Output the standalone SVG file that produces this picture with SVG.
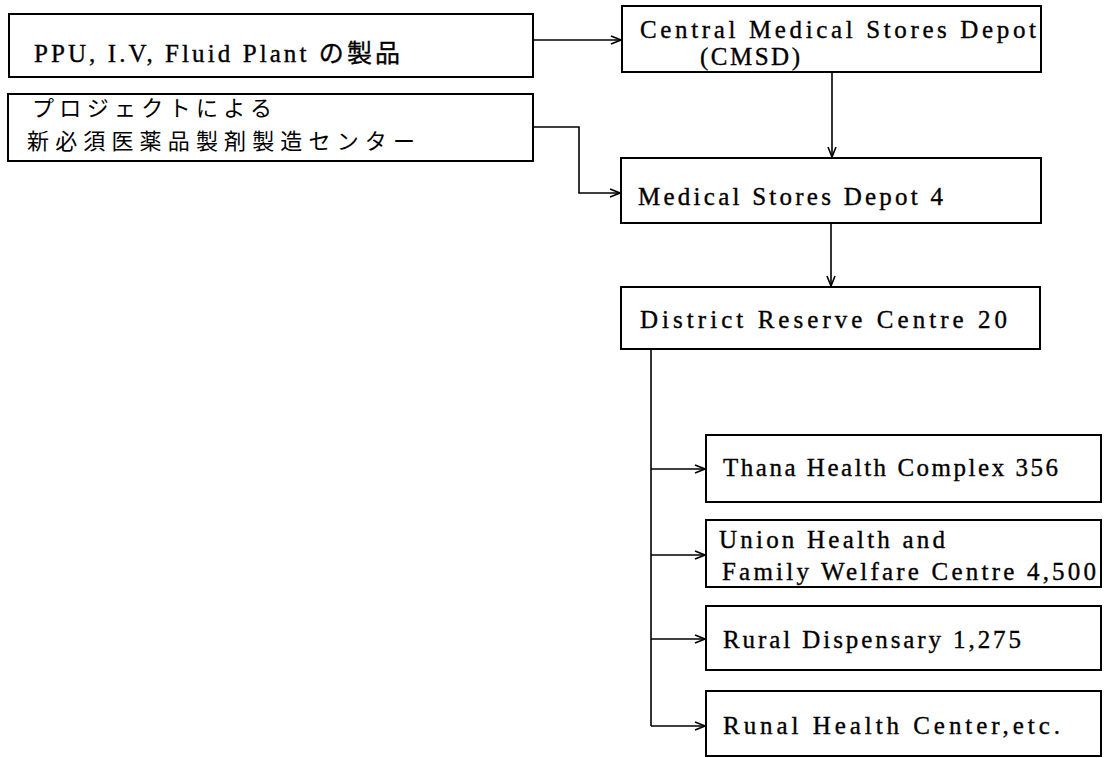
<svg xmlns="http://www.w3.org/2000/svg" width="1108" height="758" viewBox="0 0 1108 758">
<style>
  .box { fill: #fff; stroke: #000; stroke-width: 2; }
  .t { font-family: "Liberation Serif", "Noto Sans CJK JP", serif; font-size: 25px; fill: #000; stroke: #000; stroke-width: 0.35; }
  .j { font-family: "Noto Sans CJK JP", "Liberation Serif", sans-serif; font-size: 22px; fill: #000; }
  .c { fill: none; stroke: #000; stroke-width: 1.6; }
</style>
<defs>
  <marker id="arr" viewBox="0 0 12 10" refX="11" refY="5" markerWidth="12" markerHeight="10" markerUnits="userSpaceOnUse" orient="auto">
    <path d="M1,1 L11,5 L1,9" fill="none" stroke="#000" stroke-width="1.6"/>
  </marker>
</defs>
<rect width="1108" height="758" fill="#fff"/>

<g id="connectors">
  <path class="c" d="M533,40 H621" marker-end="url(#arr)"/>
  <path class="c" d="M533,127 H579 V193 H620" marker-end="url(#arr)"/>
  <path class="c" d="M832,72 V157" marker-end="url(#arr)"/>
  <path class="c" d="M831,223 V286" marker-end="url(#arr)"/>
  <path class="c" d="M651,349 V726"/>
  <path class="c" d="M651,469 H705" marker-end="url(#arr)"/>
  <path class="c" d="M651,555 H705" marker-end="url(#arr)"/>
  <path class="c" d="M651,639 H705" marker-end="url(#arr)"/>
  <path class="c" d="M651,726 H705" marker-end="url(#arr)"/>
</g>

<g id="ppu">
  <rect class="box" x="9" y="14" width="524" height="63"/>
  <text class="t" x="34" y="62" font-size="26" textLength="366" lengthAdjust="spacing">PPU, I.V, Fluid Plant の製品</text>
</g>

<g id="project">
  <rect class="box" x="8" y="94" width="525" height="67"/>
  <text class="j" x="32" y="116" textLength="240" lengthAdjust="spacing">プロジェクトによる</text>
  <text class="j" x="27" y="149" textLength="388" lengthAdjust="spacing">新必須医薬品製剤製造センター</text>
</g>

<g id="cmsd">
  <rect class="box" x="622" y="6" width="419" height="66"/>
  <text class="t" x="640" y="38" textLength="396" lengthAdjust="spacing">Central Medical Stores Depot</text>
  <text class="t" x="700" y="65" textLength="100" lengthAdjust="spacing">(CMSD)</text>
</g>

<g id="msd">
  <rect class="box" x="621" y="158" width="420" height="65"/>
  <text class="t" x="638" y="205" textLength="305" lengthAdjust="spacing">Medical Stores Depot 4</text>
</g>

<g id="drc">
  <rect class="box" x="621" y="287" width="419" height="62"/>
  <text class="t" x="640" y="328" textLength="367" lengthAdjust="spacing">District Reserve Centre 20</text>
</g>

<g id="thana">
  <rect class="box" x="706" y="435" width="395" height="67"/>
  <text class="t" x="723" y="476" textLength="335" lengthAdjust="spacing">Thana Health Complex 356</text>
</g>

<g id="union">
  <rect class="box" x="706" y="520" width="395" height="67"/>
  <text class="t" x="719" y="548" textLength="226" lengthAdjust="spacing">Union Health and</text>
  <text class="t" x="722" y="580" textLength="374" lengthAdjust="spacing">Family Welfare Centre 4,500</text>
</g>

<g id="rural">
  <rect class="box" x="706" y="606" width="395" height="64"/>
  <text class="t" x="723" y="648" textLength="298" lengthAdjust="spacing">Rural Dispensary 1,275</text>
</g>

<g id="runal">
  <rect class="box" x="706" y="691" width="395" height="65"/>
  <text class="t" x="723" y="734" textLength="337" lengthAdjust="spacing">Runal Health Center,etc.</text>
</g>
</svg>
